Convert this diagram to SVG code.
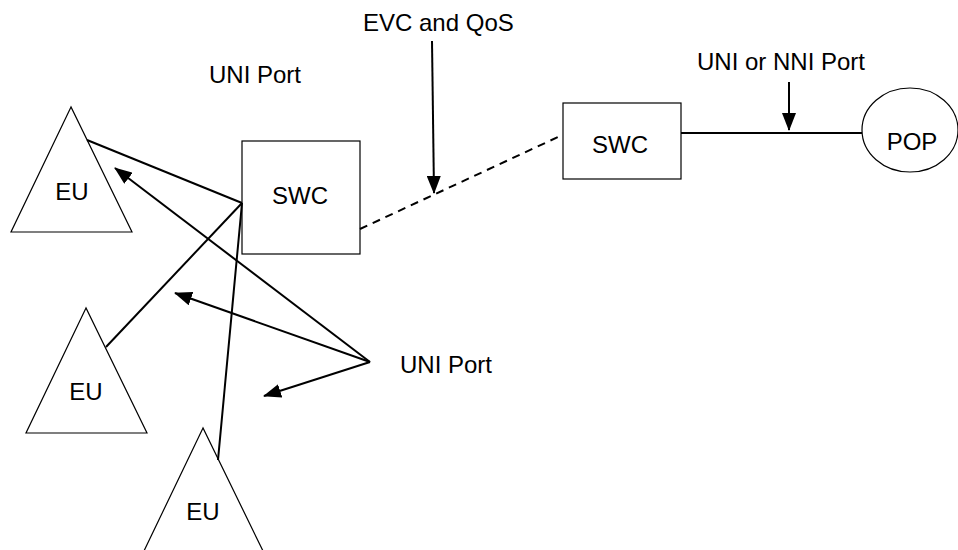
<svg xmlns="http://www.w3.org/2000/svg" width="958" height="550" viewBox="0 0 958 550">
<style>
.shape{fill:#fff;stroke:#000;stroke-width:1.2}
.conn{stroke:#000;stroke-width:2;fill:none}
.arr{stroke:#000;stroke-width:2;fill:none;marker-end:url(#ah)}
text{font-family:"Liberation Sans",Arial,sans-serif;font-size:24px;fill:#000}
.c{text-anchor:middle}
</style>
<defs>
<marker id="ah" viewBox="0 0 18 14" refX="17" refY="7" markerWidth="18" markerHeight="14" markerUnits="userSpaceOnUse" orient="auto">
<path d="M0,0 L18,7 L0,14 Z" fill="#000"/>
</marker>
</defs>
<rect width="958" height="550" fill="#fff"/>
<g id="eu1"><polygon class="shape" points="71,107 11,232 132,232"/><text class="c" x="72" y="200">EU</text></g>
<g id="eu2"><polygon class="shape" points="86,308 26,433 147,433"/><text class="c" x="86" y="400">EU</text></g>
<g id="eu3"><polygon class="shape" points="203,428 143,553 264,553"/><text class="c" x="203" y="520">EU</text></g>
<g id="swc1"><rect class="shape" x="242" y="141" width="118" height="113"/><text class="c" x="300" y="204">SWC</text></g>
<g id="swc2"><rect class="shape" x="563" y="103" width="118" height="76"/><text class="c" x="620" y="153">SWC</text></g>
<g id="pop"><ellipse class="shape" cx="910" cy="130" rx="48" ry="42"/><text class="c" x="912" y="150">POP</text></g>
<g id="labels">
<text x="209" y="83">UNI Port</text>
<text x="363" y="31">EVC and QoS</text>
<text x="697" y="70">UNI or NNI Port</text>
<text x="400" y="373">UNI Port</text>
</g>
<g id="connectors">
<line class="conn" x1="87" y1="140" x2="242" y2="203"/>
<line class="conn" x1="106" y1="347" x2="242" y2="203"/>
<line class="conn" x1="218" y1="460" x2="242" y2="203"/>
<line class="conn" x1="360" y1="229" x2="558" y2="137" stroke-dasharray="8,6"/>
<line class="conn" x1="681" y1="133" x2="862" y2="133"/>
<line class="arr" x1="432" y1="41" x2="434" y2="193"/>
<line class="arr" x1="789" y1="82" x2="789" y2="130"/>
<line class="arr" x1="370" y1="362" x2="115" y2="168"/>
<line class="arr" x1="370" y1="362" x2="175" y2="293"/>
<line class="arr" x1="370" y1="362" x2="264" y2="396"/>
</g>
</svg>
